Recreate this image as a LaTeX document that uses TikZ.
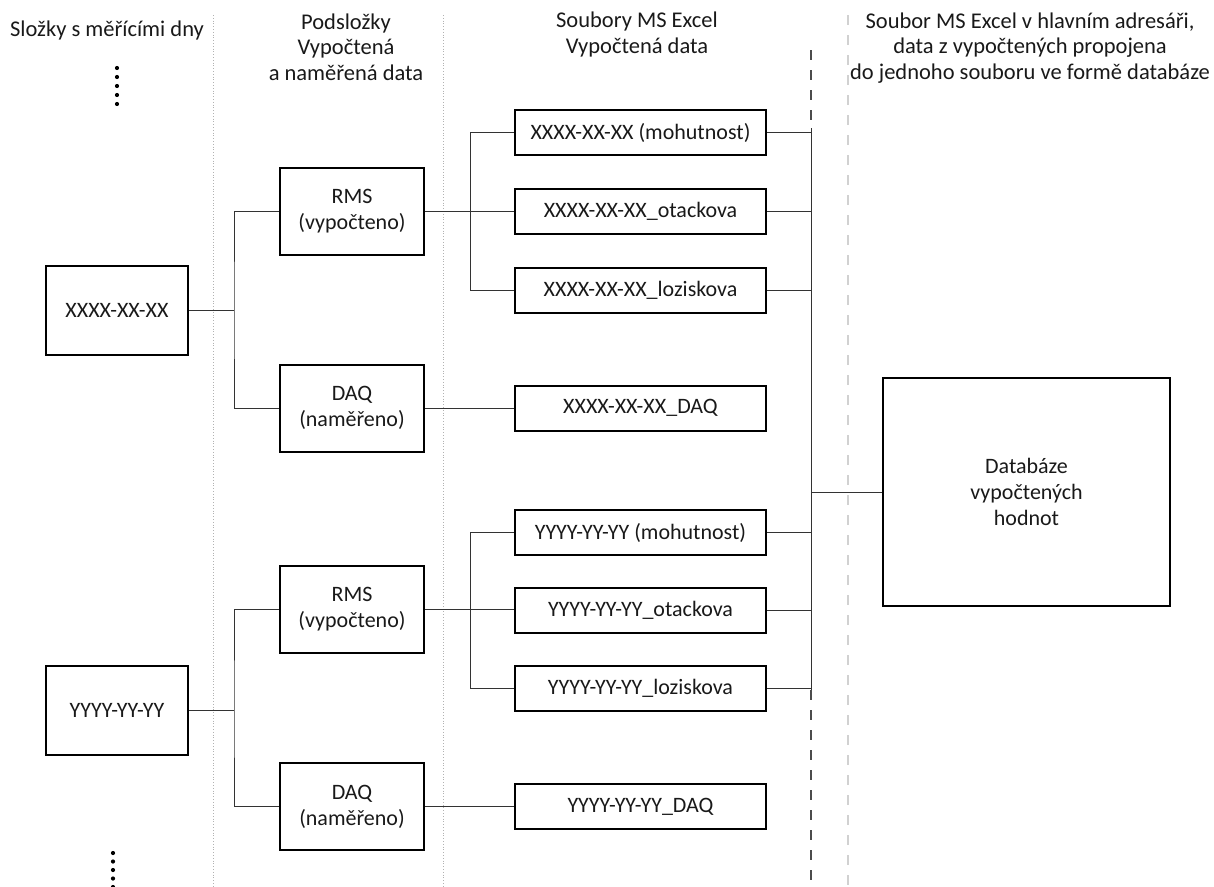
\documentclass[tikz,border=0pt]{standalone}
\usepackage{fontspec}
\setmainfont{Carlito}
\begin{document}
\begin{tikzpicture}[x=1pt,y=-1pt,
  box/.style={draw=black, line width=2pt, align=center, inner sep=0pt,
    font=\fontsize{22}{26}\selectfont, text=black!90},
  dbox/.style={box, minimum width=142, minimum height=89},
  sbox/.style={box, minimum width=144, minimum height=87},
  ebox/.style={box, minimum width=251, minimum height=45},
  head/.style={align=center, font=\fontsize{22.5}{25.5}\selectfont, text=black!90, inner sep=0pt},
  conn/.style={draw=black!80, line width=1pt},
  sepline/.style={draw=black!30, line width=0.8pt, dotted},
  lightdash/.style={draw=black!18, line width=2pt, dash pattern=on 10pt off 10pt},
  darkdash/.style={draw=black!70, line width=1.5pt, dash pattern=on 10pt off 10pt},
  dotmark/.style={circle, fill=black, inner sep=0pt, minimum size=4.2pt}]
\useasboundingbox (0,0) rectangle (1214,886);

% separators
\coordinate (s1t) at (213,15); \coordinate (s1b) at (213,886);
\coordinate (s2t) at (443,15); \coordinate (s2b) at (443,886);
\coordinate (s3t) at (848,15); \coordinate (s3b) at (848,886);
\draw[sepline] (s1t) -- (s1b);
\draw[sepline] (s2t) -- (s2b);
\draw[lightdash] (s3t) -- (s3b);

% headers
\node[head] (h1) at (107,31) {Složky s měřícími dny};
\node[head] (h2) at (346,47) {Podsložky\\Vypočtená\\ a naměřená data};
\node[head] (h3) at (637,34.5) {Soubory MS Excel\\Vypočtená data};
\node[head] (h4) at (1030,48) {Soubor MS Excel v hlavním adresáři,\\data z vypočtených propojena\\do jednoho souboru ve formě databáze};

% dots
\foreach \i/\y in {1/68,2/77,3/86,4/95,5/104} \node[dotmark] (td\i) at (117,\y) {};
\foreach \i/\y in {1/853,2/861.5,3/870,4/878.5,5/887} \node[dotmark] (bd\i) at (113,\y) {};

% day folders
\node[dbox] (d1) at (117,310.5) {XXXX-XX-XX};
\node[dbox] (d2) at (117,710) {YYYY-YY-YY};

% subfolders
\node[sbox] (r1) at (352,211.5) {RMS\\(vypočteno)};
\node[sbox] (a1) at (352,408) {DAQ\\(naměřeno)};
\node[sbox] (r2) at (352,609.5) {RMS\\(vypočteno)};
\node[sbox] (a2) at (352,806.5) {DAQ\\(naměřeno)};

% excel files
\node[ebox] (e1) at (640.5,132.5) {XXXX-XX-XX (mohutnost)};
\node[ebox] (e2) at (640.5,211) {XXXX-XX-XX\_otackova};
\node[ebox] (e3) at (640.5,290.5) {XXXX-XX-XX\_loziskova};
\node[ebox] (e4) at (640.5,408) {XXXX-XX-XX\_DAQ};
\node[ebox] (e5) at (640.5,532.5) {YYYY-YY-YY (mohutnost)};
\node[ebox] (e6) at (640.5,610) {YYYY-YY-YY\_otackova};
\node[ebox] (e7) at (640.5,688.5) {YYYY-YY-YY\_loziskova};
\node[ebox] (e8) at (640.5,806.5) {YYYY-YY-YY\_DAQ};

% database
\node[box, minimum width=287, minimum height=228] (db) at (1026.5,492) {Databáze\\vypočtených\\hodnot};

% bar
\coordinate (bartop) at (811,50);
\coordinate (bar1) at (811,128);
\coordinate (bar) at (811,492);
\coordinate (bar2) at (811,690);
\coordinate (barbot) at (811,886);
\draw[darkdash] (bartop) -- (bar1);
\draw[darkdash] (bar2) -- (barbot);
\draw[conn] (bar1) -- (bar2);

% junction x positions
\coordinate (j1) at (234,0);
\coordinate (j2) at (470,0);

% trees
\foreach \d/\r/\a in {d1/r1/a1, d2/r2/a2} {
  \draw[conn] (\d.east) -- (\d.east -| j1);
  \draw[conn] (\r.west) -| (j1 |- \d.east) |- (\a.west);
}
\draw[conn] (r1.east) -- (r1.east -| e2.west);
\draw[conn] (e1.west) -| (j2 |- e3.west) -- (e3.west);
\draw[conn] (r2.east) -- (r2.east -| e6.west);
\draw[conn] (e5.west) -| (j2 |- e7.west) -- (e7.west);
\draw[conn] (a1.east) -- (e4.west);
\draw[conn] (a2.east) -- (e8.west);
\foreach \e in {e1,e2,e3,e5,e6,e7} \draw[conn] (\e.east) -- (\e.east -| bar);
\draw[conn] (bar) -- (db.west);
\end{tikzpicture}
\end{document}
